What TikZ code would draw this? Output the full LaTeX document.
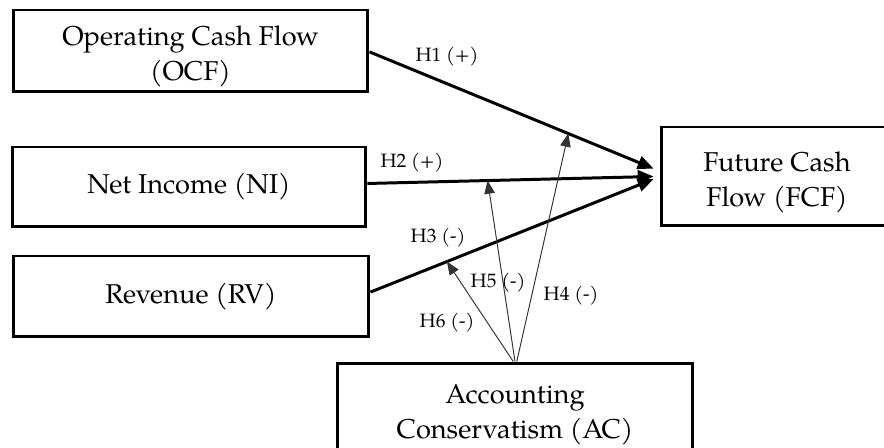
\documentclass[tikz,border=0pt]{standalone}
\usepackage{fontspec}
\setmainfont{TeX Gyre Pagella}
\usepackage{tikz}
\usetikzlibrary{arrows.meta}

\begin{document}
\begin{tikzpicture}[x=0.02cm, y=-0.02cm,
    box/.style={draw, line width=1.7pt, rectangle, inner sep=0pt, align=center,
        font=\fontsize{15.5}{20}\selectfont},
    twolines/.style={text height=38pt, text depth=4pt},
    thickarrow/.style={line width=1.7pt, -{Triangle[length=9pt, width=7.5pt]}},
    thinarrow/.style={line width=0.55pt, black!80, -{Triangle[length=7.5pt, width=6pt]}},
    hlabel/.style={inner sep=0pt, font=\fontsize{11}{13}\selectfont}]
    \useasboundingbox (0,0) rectangle (884,448);

    \node[box, twolines, minimum width=7.1cm, minimum height=1.64cm] (ocf) at (190.5,51)
        {Operating Cash Flow\\(OCF)};
    \node[box, minimum width=7.08cm, minimum height=1.6cm] (ni) at (189,187) {Net Income (NI)};
    \node[box, minimum width=7.12cm, minimum height=1.62cm] (rv) at (191,296.5) {Revenue (RV)};
    \node[box, twolines, minimum width=4.64cm, minimum height=1.98cm] (fcf) at (777,176.5)
        {Future Cash\\Flow (FCF)};
    \node[box, twolines, minimum width=7.12cm, minimum height=1.84cm] (ac) at (515,409)
        {Accounting\\Conservatism (AC)};

    \draw[thickarrow] ([yshift=-0.5pt]ocf.east) -- coordinate[pos=0.7] (m1)
        ([xshift=-3.4pt, yshift=4.5pt]fcf.west);
    \draw[thickarrow] ([yshift=2pt]ni.east) -- coordinate[pos=0.42] (m2)
        ([xshift=-3.4pt]fcf.west);
    \draw[thickarrow] ([yshift=2.5pt]rv.east) -- coordinate[pos=0.27] (m3)
        ([xshift=-3.4pt, yshift=-1.5pt]fcf.west);

    \draw[thinarrow] ([xshift=1pt]ac.north) -- (m1);
    \draw[thinarrow] (ac.north) -- (m2);
    \draw[thinarrow] ([xshift=-1pt]ac.north) -- (m3);

    \node[hlabel] (h1) at (447,57) {H1 (+)};
    \node[hlabel] (h2) at (412,163) {H2 (+)};
    \node[hlabel] (h3) at (438,238) {H3 (-)};
    \node[hlabel] (h4) at (571,296) {H4 (-)};
    \node[hlabel] (h5) at (498,283) {H5 (-)};
    \node[hlabel] (h6) at (447,323) {H6 (-)};
\end{tikzpicture}
\end{document}
